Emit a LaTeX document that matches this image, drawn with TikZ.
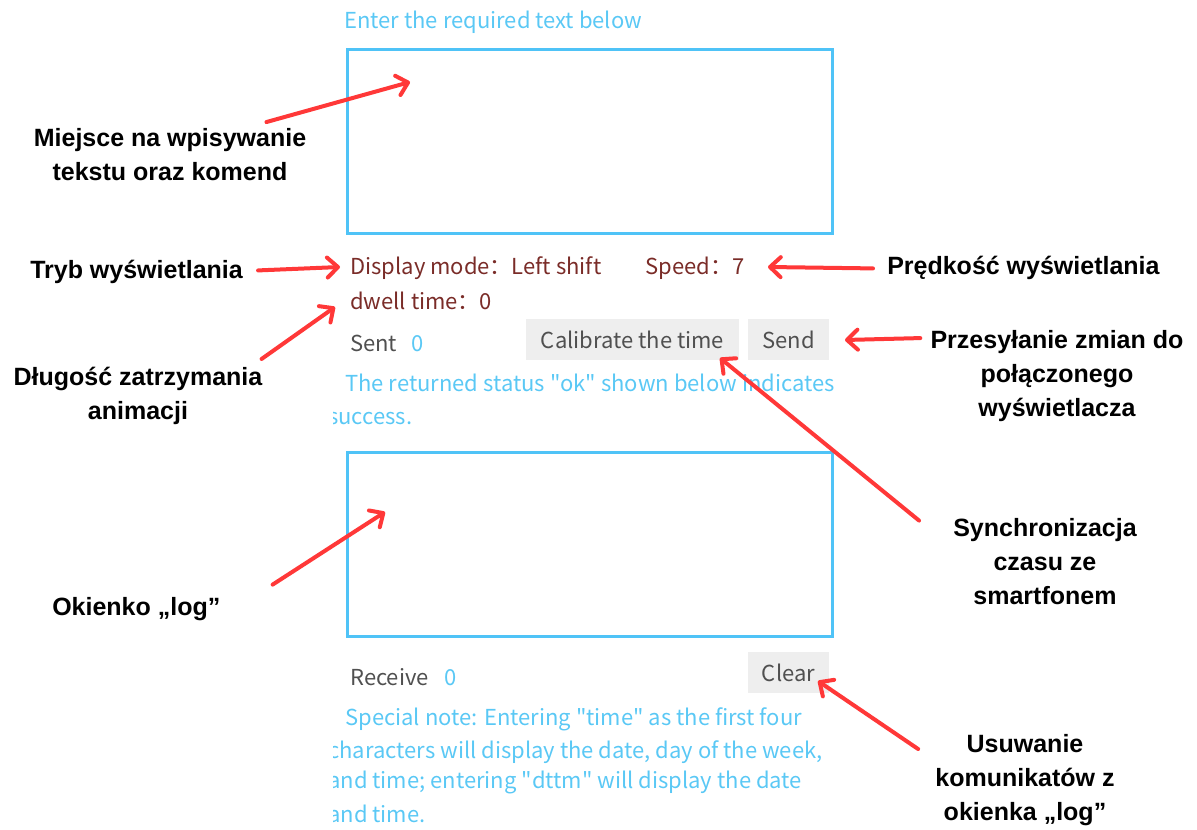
\documentclass[tikz,border=0pt]{standalone}
\usepackage{fontspec}
\setmainfont{Liberation Sans}
\newfontfamily\uifont{Noto Sans CJK SC}
\usetikzlibrary{arrows.meta}
\definecolor{uiblue}{RGB}{90,200,245}
\definecolor{boxblue}{RGB}{79,195,247}
\definecolor{uired}{RGB}{122,44,40}
\definecolor{uigray}{RGB}{80,80,80}
\definecolor{btngray}{RGB}{238,238,238}
\definecolor{arrowred}{RGB}{255,56,56}
\begin{document}
\begin{tikzpicture}[x=0.75pt,y=-0.75pt,
  ui/.style={font=\uifont\fontsize{16.5}{20}\selectfont,inner sep=0pt,anchor=base west},
  note/.style={font=\bfseries\fontsize{18.75}{25.5}\selectfont,inner sep=0pt,align=center},
  field/.style={draw=boxblue,line width=2.25pt},
  btn/.style={ui,anchor=center,fill=btngray,text=uigray,minimum height=30.75pt},
  pointer/.style={draw=arrowred,line width=3pt,line cap=round,>={Straight Barb[length=8pt,width=15pt,round]},->}]
\useasboundingbox (0,0) rectangle (1197,830);
\node[ui,text=uiblue] (prompt) at (344,29) {Enter the required text below};
\draw[field] (347,50) rectangle (832,234);
\node[ui,text=uired] (mode) at (350,275) {Display mode：Left shift};
\node[ui,text=uired] (speed) at (645,275) {Speed：7};
\node[ui,text=uired] (dwell) at (350,310) {dwell time：0};
\node[ui,text=uigray] (sent) at (350,352) {Sent};
\node[ui,text=uiblue] (sentcount) at (411,352) {0};
\node[btn,minimum width=159.75pt] (calib) at (632.5,339.5) {Calibrate the time};
\node[btn,minimum width=60.75pt] (send) at (788.5,339.5) {Send};
\begin{scope}
\clip (333,360) rectangle (900,830);
\node[ui,text=uiblue] (status) at (345,392) {The returned status \textquotedbl ok\textquotedbl{} shown below indicates};
\node[ui,text=uiblue] (statusend) at (328,425) {success.};
\node[ui,text=uiblue] (noteA) at (345,725) {Special note: Entering \textquotedbl time\textquotedbl{} as the first four};
\node[ui,text=uiblue] (noteB) at (328,758) {characters will display the date, day of the week,};
\node[ui,text=uiblue] (noteC) at (328,788) {and time; entering \textquotedbl dttm\textquotedbl{} will display the date};
\node[ui,text=uiblue] (noteD) at (328,822) {and time.};
\end{scope}
\draw[field] (347,453) rectangle (832,636);
\node[ui,text=uigray] (receive) at (350,685) {Receive};
\node[ui,text=uiblue] (recvcount) at (444,685) {0};
\node[btn,minimum width=60.75pt] (clear) at (788.5,672.5) {Clear};

\node[note] (miejsce) at (170,154.5) {Miejsce na wpisywanie\\tekstu oraz komend};
\node[note,anchor=base west] (tryb) at (30,279) {Tryb wyświetlania};
\node[note] (dlugosc) at (138,396) {Długość zatrzymania\\animacji};
\node[note,anchor=base west] (predkosc) at (887,275) {Prędkość wyświetlania};
\node[note] (przesyl) at (1057,376) {Przesyłanie zmian do\\połączonego\\wyświetlacza};
\node[note] (sync) at (1045,562) {Synchronizacja\\czasu ze\\smartfonem};
\node[note,anchor=base west] (okienko) at (52,615) {Okienko „log”};
\node[note] (usuw) at (1025,780) {Usuwanie\\komunikatów z\\okienka „log”};

\coordinate (textTip) at (410,82);
\coordinate (modeTip) at (340,267);
\coordinate (dwellTip) at (335,307);
\coordinate (speedTip) at (768,267);
\coordinate (sendTip) at (845,340);
\coordinate (calibTip) at (720,358);
\coordinate (logTip) at (385,512);
\coordinate (clearTip) at (818,681);

\draw[pointer] ([shift={(-40,-6)}]miejsce.north east) -- (textTip);
\draw[pointer] ([shift={(15,-2)}]tryb.east) -- (modeTip);
\draw[pointer] ([shift={(-1,-8)}]dlugosc.north east) -- (dwellTip);
\draw[pointer] ([shift={(-14,0)}]predkosc.west) -- (speedTip);
\draw[pointer] ([shift={(-10,8)}]przesyl.north west) -- (sendTip);
\draw[pointer] ([shift={(-34,2)}]sync.north west) -- (calibTip);
\draw[pointer] ([shift={(52,-12)}]okienko.north east) -- (logTip);
\draw[pointer] ([shift={(-17,15)}]usuw.north west) -- (clearTip);
\end{tikzpicture}
\end{document}
